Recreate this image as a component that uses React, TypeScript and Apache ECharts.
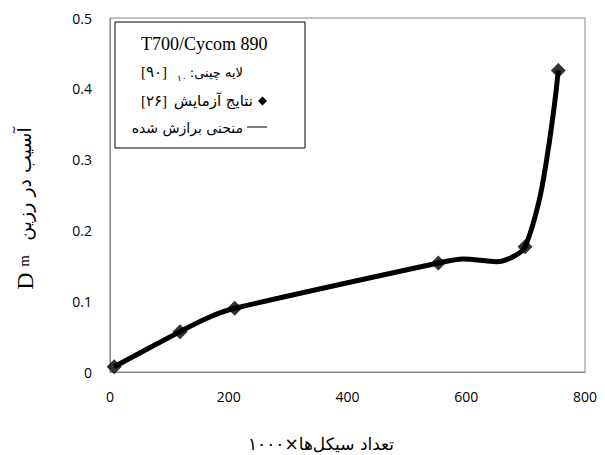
import React, { useEffect, useRef } from "react";
import * as echarts from "echarts";

// Experimental results (cycles x1000, Dm)
const expX = [7, 118, 210, 553, 699, 755];
const expY = [0.0075, 0.057, 0.09, 0.154, 0.177, 0.426];

// Fitted curve
const fitX = [7, 118, 166, 210, 553, 595, 651, 679, 699, 723, 738, 749.5, 755];
const fitY = [0.0075, 0.057, 0.077, 0.09, 0.154, 0.1596, 0.1558, 0.1628, 0.177, 0.243, 0.314, 0.384, 0.426];

const xTicks = [0, 200, 400, 600, 800];
const yTicks = [0, 0.1, 0.2, 0.3, 0.4, 0.5];

const legendTitle = "T700/Cycom 890";
const layupLabel = "\u200E:لایه چینی";
const layupAngle = "[۹۰]";
const layupCount = "۱۰";
const expRef = "[۲۶]";
const expLabel = "نتایج آزمایش";
const fitLabel = "منحنی برازش شده";
const xName = "تعداد سیکل‌ها×۱۰۰۰";
const yNameFa = "آسیب در رزین";

const SERIF = "'Liberation Serif', 'Times New Roman', 'DejaVu Sans', serif";
const FA = "'DejaVu Sans', sans-serif";
const NUM = "'Open Sans', sans-serif";

export default function App() {
  const ref = useRef<HTMLDivElement>(null);
  useEffect(() => {
    if (!ref.current) return;
    const chart = echarts.init(ref.current, null, { renderer: "svg" });
    const fitData = fitX.map((x, i) => [x, fitY[i]]);
    const expData = expX.map((x, i) => [x, expY[i]]);
    chart.setOption({
      animation: false,
      backgroundColor: "#fff",
      grid: {
        left: 110,
        right: 20,
        top: 18,
        bottom: 83,
        show: true,
        borderColor: "#868686",
        borderWidth: 1,
        backgroundColor: "transparent",
      },
      xAxis: {
        type: "value",
        min: xTicks[0],
        max: xTicks[xTicks.length - 1],
        interval: 200,
        axisLine: { show: true, lineStyle: { color: "#868686", width: 1 } },
        axisTick: { show: false },
        splitLine: { show: false },
        axisLabel: { color: "#000", fontFamily: NUM, fontSize: 14, margin: 17 },
      },
      yAxis: {
        type: "value",
        min: yTicks[0],
        max: yTicks[yTicks.length - 1],
        interval: 0.1,
        axisLine: { show: true, lineStyle: { color: "#868686", width: 1 } },
        axisTick: { show: false },
        splitLine: { show: false },
        axisLabel: {
          color: "#000",
          fontFamily: NUM,
          fontSize: 14,
          margin: 18,
          formatter: (v: number) => (v === 0 ? "0" : v.toFixed(1)),
        },
      },
      series: [
        {
          type: "line",
          data: fitData,
          smooth: 0.3,
          showSymbol: false,
          symbol: "none",
          lineStyle: { color: "#000", width: 5 },
          z: 2,
        },
        {
          type: "scatter",
          data: expData,
          symbol: "diamond",
          symbolSize: [15, 15],
          itemStyle: { color: "#000" },
          z: 3,
        },
      ],
      graphic: [
        {
          type: "rect",
          shape: { x: 115, y: 22, width: 190, height: 126 },
          style: { fill: "#fff", stroke: "#000", lineWidth: 1 },
          z: 10,
        },
        {
          type: "text",
          x: 141,
          y: 44,
          z: 11,
          style: { text: legendTitle, font: `18px ${SERIF}`, fill: "#000", align: "left", verticalAlign: "middle" },
        },
        {
          type: "text",
          x: 141,
          y: 72,
          z: 11,
          style: { text: layupAngle, font: `15px ${SERIF}`, fill: "#000", align: "left", verticalAlign: "middle" },
        },
        {
          type: "text",
          x: 177,
          y: 78,
          z: 11,
          style: { text: layupCount, font: `9px ${FA}`, fill: "#000", align: "left", verticalAlign: "middle" },
        },
        {
          type: "text",
          x: 243,
          y: 72,
          z: 11,
          style: { text: layupLabel, font: `13px ${FA}`, fill: "#000", align: "right", verticalAlign: "middle" },
        },
        {
          type: "text",
          x: 141,
          y: 101,
          z: 11,
          style: { text: expRef, font: `15px ${SERIF}`, fill: "#000", align: "left", verticalAlign: "middle" },
        },
        {
          type: "text",
          x: 253,
          y: 101,
          z: 11,
          style: { text: expLabel, font: `15px ${FA}`, fill: "#000", align: "right", verticalAlign: "middle" },
        },
        {
          type: "polygon",
          z: 11,
          shape: { points: [[262.5, 96.5], [267, 101], [262.5, 105.5], [258, 101]] },
          style: { fill: "#000" },
        },
        {
          type: "text",
          x: 243,
          y: 128,
          z: 11,
          style: { text: fitLabel, font: `14px ${FA}`, fill: "#000", align: "right", verticalAlign: "middle" },
        },
        {
          type: "line",
          z: 11,
          shape: { x1: 247, y1: 127, x2: 267, y2: 127 },
          style: { stroke: "#000", lineWidth: 1 },
        },
        {
          type: "text",
          x: 321,
          y: 444,
          style: { text: xName, font: `17px ${FA}`, fill: "#000", align: "center", verticalAlign: "middle" },
        },
        {
          type: "text",
          x: 25,
          y: 281,
          rotation: Math.PI / 2,
          style: { text: "D", font: `24px ${SERIF}`, fill: "#000", align: "center", verticalAlign: "middle" },
        },
        {
          type: "text",
          x: 24,
          y: 261,
          rotation: Math.PI / 2,
          style: { text: "m", font: `15px ${SERIF}`, fill: "#000", align: "center", verticalAlign: "middle" },
        },
        {
          type: "text",
          x: 24,
          y: 184,
          rotation: Math.PI / 2,
          style: { text: yNameFa, font: `19px ${FA}`, fill: "#000", align: "center", verticalAlign: "middle" },
        },
      ],
    });
    return () => chart.dispose();
  }, []);
  return (
    <div
      ref={ref}
      style={{ position: "fixed", left: 0, top: 0, width: 605, height: 455, background: "#fff" }}
    />
  );
}
